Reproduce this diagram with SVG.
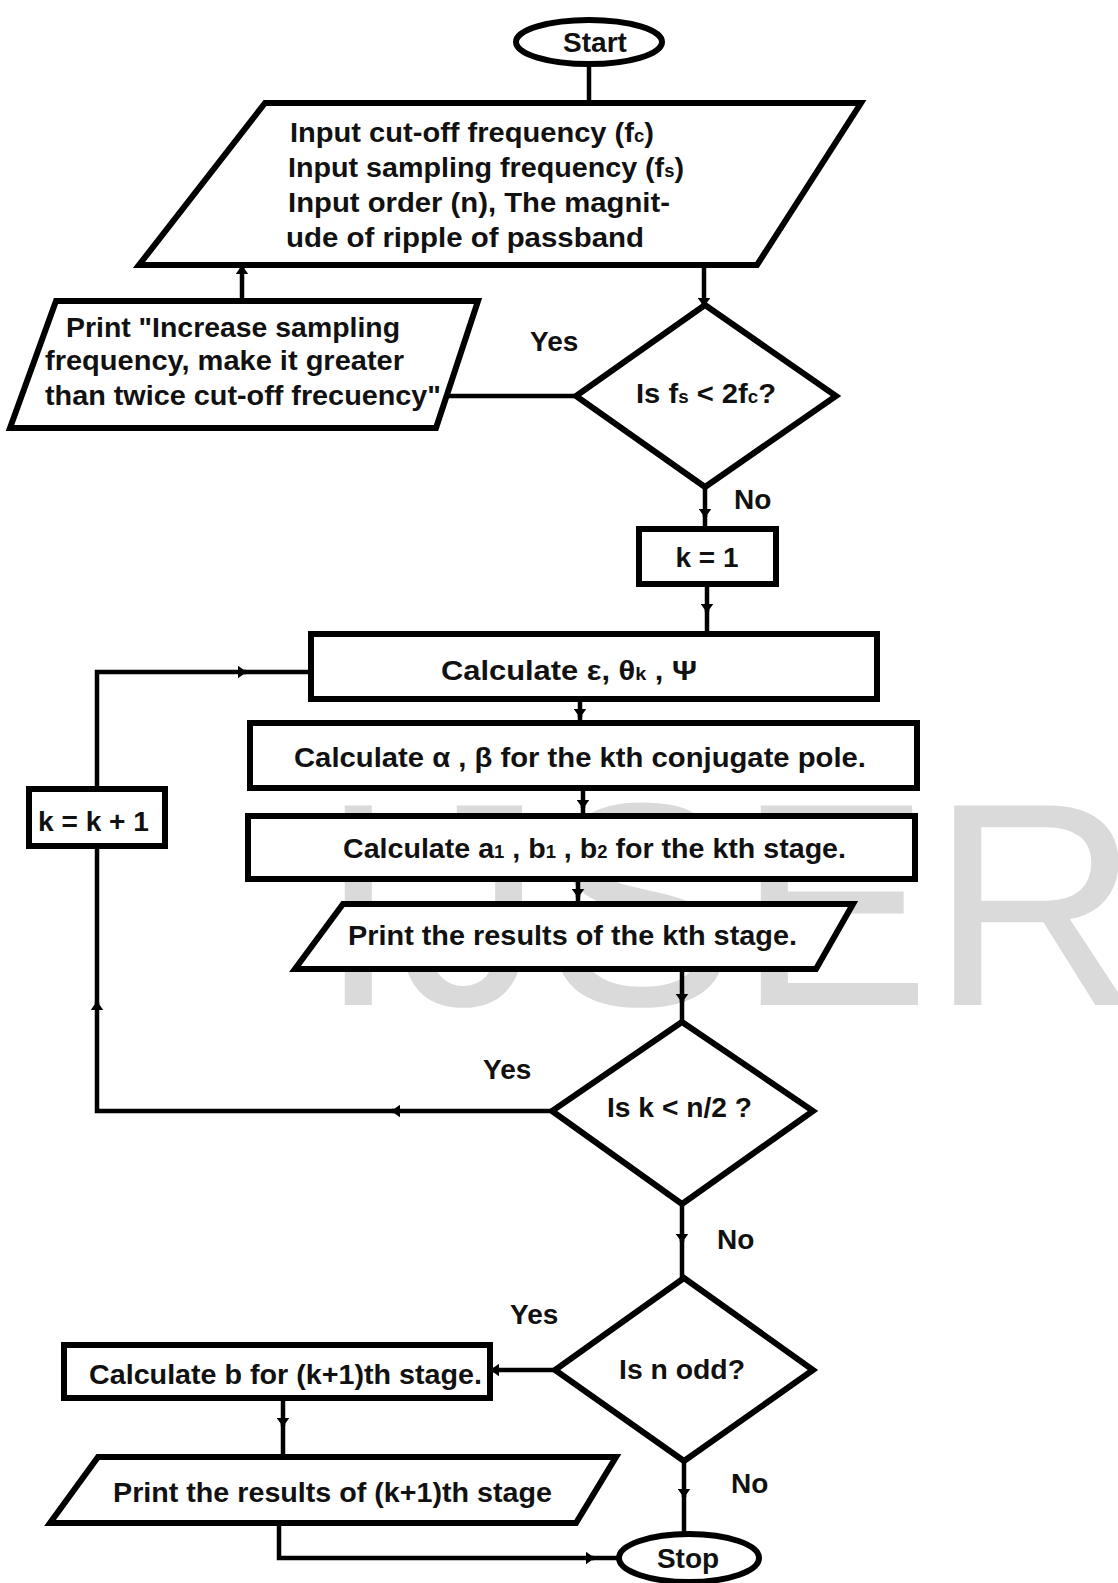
<svg xmlns="http://www.w3.org/2000/svg" width="1118" height="1583" viewBox="0 0 1118 1583">
<defs>
<style>
.s{fill:#fff;stroke:#000;stroke-width:6;stroke-linejoin:miter}
.c{fill:none;stroke:#000;stroke-width:4.5}
.t{font-family:"Liberation Sans",Arial,sans-serif;font-weight:bold;font-size:28px;fill:#111}
.sub{font-size:18px}
.wm{font-family:"Liberation Sans",Arial,sans-serif;font-size:290px;fill:#dadada}
</style>
<marker id="ah" viewBox="0 0 10 14" refX="9" refY="7" markerWidth="9" markerHeight="13" markerUnits="userSpaceOnUse" orient="auto">
<path d="M0,0 L10,7 L0,14 z" fill="#000"/>
</marker>
</defs>
<rect width="1118" height="1583" fill="#fff"/>
<text class="wm" x="318" y="1005">IJSER</text>

<g id="connectors">
<path class="c" d="M589,64 L589,103"/>
<path class="c" d="M704,265 L704,306" marker-end="url(#ah)"/>
<path class="c" d="M576,396 L440,396" marker-end="url(#ah)"/>
<path class="c" d="M242,301 L242,266" marker-end="url(#ah)"/>
<path class="c" d="M705,487 L705,517" marker-end="url(#ah)"/>
<path class="c" d="M705,515 L705,530"/>
<path class="c" d="M707,584 L707,612" marker-end="url(#ah)"/>
<path class="c" d="M707,610 L707,634"/>
<path class="c" d="M580,699 L580,717" marker-end="url(#ah)"/>
<path class="c" d="M580,715 L580,723"/>
<path class="c" d="M583,788 L583,808" marker-end="url(#ah)"/>
<path class="c" d="M583,806 L583,816"/>
<path class="c" d="M578,879 L578,897" marker-end="url(#ah)"/>
<path class="c" d="M578,895 L578,904"/>
<path class="c" d="M682,970 L682,1002" marker-end="url(#ah)"/>
<path class="c" d="M682,1000 L682,1022"/>
<path class="c" d="M552,1111 L392,1111" marker-end="url(#ah)"/>
<path class="c" d="M394,1111 L97,1111 L97,1002" marker-end="url(#ah)"/>
<path class="c" d="M97,1004 L97,847"/>
<path class="c" d="M97,787 L97,672 L246,672" marker-end="url(#ah)"/>
<path class="c" d="M244,672 L311,672"/>
<path class="c" d="M682,1204 L682,1242" marker-end="url(#ah)"/>
<path class="c" d="M682,1240 L682,1278"/>
<path class="c" d="M555,1370 L491,1370" marker-end="url(#ah)"/>
<path class="c" d="M283,1398 L283,1426" marker-end="url(#ah)"/>
<path class="c" d="M283,1424 L283,1457"/>
<path class="c" d="M279,1523 L279,1558 L594,1558" marker-end="url(#ah)"/>
<path class="c" d="M592,1558 L618,1558"/>
<path class="c" d="M684,1461 L684,1497" marker-end="url(#ah)"/>
<path class="c" d="M684,1495 L684,1533"/>
</g>

<g id="start">
<ellipse class="s" cx="589" cy="42" rx="73" ry="22"/>
<text class="t" x="595" y="52" text-anchor="middle">Start</text>
</g>

<g id="input">
<polygon class="s" points="265,103 861,103 757,265 139,265"/>
<text class="t" x="290" y="142" textLength="364" lengthAdjust="spacingAndGlyphs">Input cut-off  frequency (f<tspan class="sub">c</tspan>)</text>
<text class="t" x="288" y="177" textLength="396" lengthAdjust="spacingAndGlyphs">Input sampling frequency (f<tspan class="sub">s</tspan>)</text>
<text class="t" x="288" y="212" textLength="382" lengthAdjust="spacingAndGlyphs">Input order (n), The magnit-</text>
<text class="t" x="286" y="247" textLength="358" lengthAdjust="spacingAndGlyphs">ude of ripple of passband</text>
</g>

<g id="print-warning">
<polygon class="s" points="56,301 478,301 436,428 10,428"/>
<text class="t" x="66" y="337" textLength="334" lengthAdjust="spacingAndGlyphs">Print "Increase sampling</text>
<text class="t" x="45" y="370" textLength="359" lengthAdjust="spacingAndGlyphs">frequency, make it greater</text>
<text class="t" x="45" y="405" textLength="396" lengthAdjust="spacingAndGlyphs">than twice cut-off frecuency"</text>
</g>

<g id="decision-fs">
<polygon class="s" points="705,305 836,396 705,487 576,396"/>
<text class="t" x="636" y="403" textLength="140" lengthAdjust="spacingAndGlyphs">Is f<tspan class="sub">s</tspan> &lt; 2f<tspan class="sub">c</tspan>?</text>
<text class="t" x="530" y="351">Yes</text>
<text class="t" x="734" y="509">No</text>
</g>

<g id="k1">
<rect class="s" x="639" y="529" width="137" height="55"/>
<text class="t" x="707" y="567" text-anchor="middle">k = 1</text>
</g>

<g id="calc-eps">
<rect class="s" x="311" y="634" width="566" height="65"/>
<text class="t" x="441" y="680" textLength="256" lengthAdjust="spacingAndGlyphs">Calculate ε, θ<tspan class="sub">k</tspan> , Ψ</text>
</g>

<g id="calc-alpha">
<rect class="s" x="250" y="723" width="667" height="65"/>
<text class="t" x="294" y="767" textLength="572" lengthAdjust="spacingAndGlyphs">Calculate α , β for the kth conjugate pole.</text>
</g>

<g id="calc-ab">
<rect class="s" x="248" y="816" width="667" height="63"/>
<text class="t" x="343" y="858" textLength="503" lengthAdjust="spacingAndGlyphs">Calculate a<tspan class="sub">1</tspan> , b<tspan class="sub">1</tspan> , b<tspan class="sub">2</tspan> for the kth stage.</text>
</g>

<g id="kinc">
<rect class="s" x="29" y="789" width="136" height="57"/>
<text class="t" x="38" y="831" textLength="111" lengthAdjust="spacingAndGlyphs">k = k + 1</text>
</g>

<g id="print-kth">
<polygon class="s" points="343,904 853,904 816,969 295,969"/>
<text class="t" x="348" y="945" textLength="449" lengthAdjust="spacingAndGlyphs">Print the results of the kth stage.</text>
</g>

<g id="decision-k">
<polygon class="s" points="682,1022 813,1111 682,1204 552,1111"/>
<text class="t" x="607" y="1117" textLength="145" lengthAdjust="spacingAndGlyphs">Is k &lt; n/2 ?</text>
<text class="t" x="483" y="1079">Yes</text>
<text class="t" x="717" y="1249">No</text>
</g>

<g id="decision-odd">
<polygon class="s" points="684,1278 813,1370 684,1461 555,1370"/>
<text class="t" x="619" y="1379" textLength="126" lengthAdjust="spacingAndGlyphs">Is n odd?</text>
<text class="t" x="510" y="1324">Yes</text>
<text class="t" x="731" y="1493">No</text>
</g>

<g id="calc-b">
<rect class="s" x="64" y="1345" width="426" height="53"/>
<text class="t" x="89" y="1384" textLength="393" lengthAdjust="spacingAndGlyphs">Calculate b for (k+1)th stage.</text>
</g>

<g id="print-k1">
<polygon class="s" points="98,1457 616,1457 576,1523 50,1523"/>
<text class="t" x="113" y="1502" textLength="439" lengthAdjust="spacingAndGlyphs">Print the results of (k+1)th stage</text>
</g>

<g id="stop">
<ellipse class="s" cx="689" cy="1558" rx="70" ry="24"/>
<text class="t" x="688" y="1568" text-anchor="middle">Stop</text>
</g>
</svg>
